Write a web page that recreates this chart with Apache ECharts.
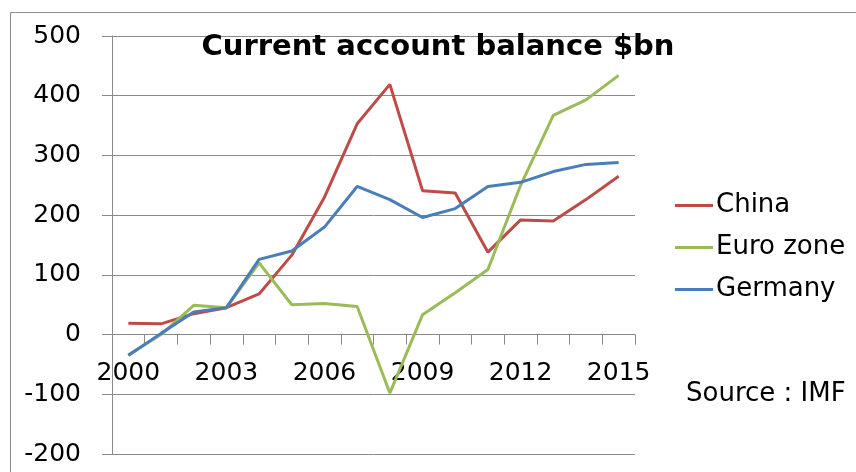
<!DOCTYPE html>
<html>
<head>
<meta charset="utf-8">
<title>Current account balance $bn</title>
<script src="https://cdn.jsdelivr.net/npm/echarts@6/dist/echarts.min.js"></script>
<style>
  html, body { margin: 0; padding: 0; background: #ffffff; }
  #chart { width: 856px; height: 472px; }
</style>
</head>
<body>
<div id="chart"></div>
<script>
// Current account balances, $bn (IMF)
const years = ['2000','2001','2002','2003','2004','2005','2006','2007',
               '2008','2009','2010','2011','2012','2013','2014','2015'];
const china    = [19, 18, 35, 45, 68, 133, 230, 353, 419, 241, 237, 138, 192, 190, 226, 265];
const euroZone = [-34, 0, 49, 45, 120, 50, 52, 47, -98, 33, 70, 109, 250, 367, 393, 434];
const germany  = [-35, 2, 38, 45, 126, 140, 180, 248, 226, 196, 211, 248, 255, 273, 285, 288];
const yTicks = { min: -200, max: 500, interval: 100 };

const FONT = 'DejaVu Sans';
const GRID_GREY = '#8a8a8a';

// plot area edges, px
const PLOT = { left: 112, right: 221, top: 36, bottom: 18 };
// distance from the bottom edge of the plot up to the zero line
const zeroOffset = (0 - yTicks.min) / (yTicks.max - yTicks.min) *
                   (472 - PLOT.top - PLOT.bottom);

const chart = echarts.init(document.getElementById('chart'), null, { renderer: 'canvas' });

function lineSeries(name, data, color) {
  return {
    name: name,
    type: 'line',
    data: data,
    symbol: 'none',
    lineStyle: { color: color, width: 3 },
    itemStyle: { color: color },
    z: 3
  };
}

chart.setOption({
  backgroundColor: '#ffffff',
  animation: false,
  title: {
    text: 'Current account balance $bn',
    left: 433,
    top: 28,
    textAlign: 'center',
    textStyle: { fontFamily: FONT, fontWeight: 'bold', fontSize: 29, color: '#000000' }
  },
  grid: {
    left: PLOT.left, right: PLOT.right, top: PLOT.top, bottom: PLOT.bottom,
    containLabel: false, outerBoundsMode: 'none'
  },
  legend: {
    orient: 'vertical',
    left: 675,
    top: 191,
    padding: 0,
    icon: 'rect',
    itemWidth: 38,
    itemHeight: 3,
    itemGap: 13,
    textStyle: { fontFamily: FONT, fontSize: 26, color: '#000000', lineHeight: 29, padding: [0, 0, 0, -2] },
    data: ['China', 'Euro zone', 'Germany']
  },
  xAxis: [
    {
      // axis line and ticks sitting on the zero line
      type: 'category',
      data: years,
      boundaryGap: true,
      axisLine: { onZero: true, lineStyle: { color: GRID_GREY, width: 1 } },
      axisTick: { show: true, interval: 0, length: 10, inside: false, lineStyle: { color: GRID_GREY } },
      axisLabel: { show: false },
      splitLine: { show: false }
    },
    {
      // year labels placed just under the zero line
      type: 'category',
      data: years,
      boundaryGap: true,
      position: 'bottom',
      offset: -zeroOffset,
      axisLine: { show: false, onZero: false },
      axisTick: { show: false },
      axisLabel: { interval: 2, margin: 26, fontFamily: FONT, fontSize: 25, color: '#000000' },
      splitLine: { show: false }
    }
  ],
  yAxis: {
    type: 'value',
    min: yTicks.min,
    max: yTicks.max,
    interval: yTicks.interval,
    axisLine: { show: true, lineStyle: { color: GRID_GREY, width: 1 } },
    axisTick: { show: true, length: 10, inside: false, lineStyle: { color: GRID_GREY } },
    axisLabel: { margin: 31, fontFamily: FONT, fontSize: 25, color: '#000000' },
    splitLine: { show: true, lineStyle: { color: GRID_GREY, width: 1 } }
  },
  series: [
    lineSeries('China', china, '#be4b48'),
    lineSeries('Euro zone', euroZone, '#9bbb59'),
    lineSeries('Germany', germany, '#4a7ebb')
  ],
  graphic: [
    {
      type: 'rect',
      silent: true,
      shape: { x: 10.5, y: 12.5, width: 900, height: 500 },
      style: { fill: 'none', stroke: '#8c8c8c', lineWidth: 1 },
      z: -1
    },
    {
      type: 'text',
      left: 686,
      top: 381,
      style: { text: 'Source : IMF', font: '26px "DejaVu Sans"', fill: '#000000' }
    }
  ]
});
</script>
</body>
</html>
